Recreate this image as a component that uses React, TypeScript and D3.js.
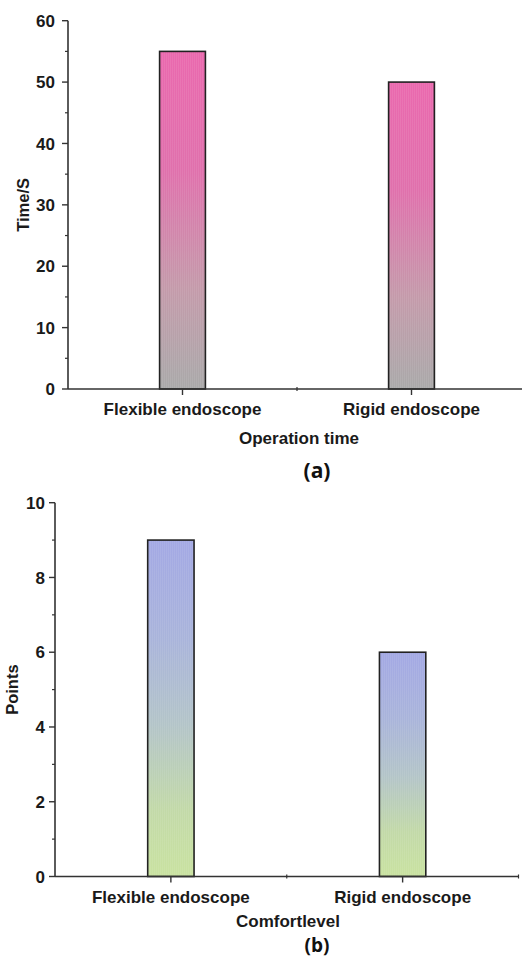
import * as d3 from "d3";

// panel (a): operation time
const categories = ["Flexible endoscope", "Rigid endoscope"];
const timeValues = [55, 50];
const timeTicks = [0, 10, 20, 30, 40, 50, 60];
const timeMinor = [5, 15, 25, 35, 45, 55];

// panel (b): comfort level
const pointValues = [9, 6];
const pointTicks = [0, 2, 4, 6, 8, 10];
const pointMinor = [1, 3, 5, 7, 9];

const W = 522;
const H = 959;
const FONT = "'Liberation Sans', Arial, sans-serif";

type PanelProps = {
  values: number[];
  ticks: number[];
  minor: number[];
  domainMax: number;
  left: number;
  right: number;
  top: number;
  bottom: number;
  gradId: string;
  yTitle: string;
  yTitleX: number;
  xTitle: string;
  xTitleX: number;
  xTitleY: number;
  xLabelY: number;
  tickFont: number;
  tickGap: number;
  label: string;
  labelY: number;
  labelFont: number;
};

function Panel(p: PanelProps) {
  const x = d3.scaleBand<string>().domain(categories).range([p.left, p.right]);
  const y = d3.scaleLinear().domain([0, p.domainMax]).range([p.bottom, p.top]);
  const bw = x.bandwidth() * 0.2;
  const boundaries = [p.left, ...categories.map((c) => (x(c) ?? 0) + x.bandwidth())];
  const axisColor = "#333";

  return (
    <g>
      {categories.map((c, i) => {
        const cx = (x(c) ?? 0) + x.bandwidth() / 2;
        return (
          <g key={c}>
            <rect
              x={cx - bw / 2}
              y={y(p.values[i])}
              width={bw}
              height={y(0) - y(p.values[i])}
              fill={`url(#${p.gradId})`}
            />
            <rect
              x={cx - bw / 2}
              y={y(p.values[i])}
              width={bw}
              height={y(0) - y(p.values[i])}
              fill="url(#stripes)"
              stroke="#222"
              strokeWidth={1.6}
            />
          </g>
        );
      })}

      {/* y axis */}
      <line x1={p.left} x2={p.left} y1={p.top} y2={p.bottom} stroke={axisColor} strokeWidth={1.6} />
      {p.ticks.map((t) => (
        <g key={t}>
          <line x1={p.left - 6} x2={p.left} y1={y(t)} y2={y(t)} stroke={axisColor} strokeWidth={1.4} />
          <text
            x={p.left - p.tickGap}
            y={y(t)}
            dy="0.36em"
            textAnchor="end"
            fontFamily={FONT}
            fontWeight="bold"
            fontSize={p.tickFont}
            fill="#1a1a1a"
          >
            {t}
          </text>
        </g>
      ))}
      {p.minor.map((t) => (
        <line key={t} x1={p.left - 3} x2={p.left} y1={y(t)} y2={y(t)} stroke={axisColor} strokeWidth={1.2} />
      ))}

      {/* x axis */}
      <line x1={p.left} x2={p.right} y1={p.bottom} y2={p.bottom} stroke={axisColor} strokeWidth={1.6} />
      {categories.map((c) => {
        const cx = (x(c) ?? 0) + x.bandwidth() / 2;
        return (
          <g key={c}>
            <line x1={cx} x2={cx} y1={p.bottom} y2={p.bottom + 6} stroke={axisColor} strokeWidth={1.4} />
            <text
              x={cx}
              y={p.xLabelY}
              dy="0.36em"
              textAnchor="middle"
              fontFamily={FONT}
              fontWeight="bold"
              fontSize={17}
              fill="#1a1a1a"
            >
              {c}
            </text>
          </g>
        );
      })}
      {boundaries.slice(1).map((b, i) => (
        <line key={i} x1={b} x2={b} y1={p.bottom - 2} y2={p.bottom + 2} stroke={axisColor} strokeWidth={1.2} />
      ))}

      <text
        transform={`translate(${p.yTitleX},${(p.top + p.bottom) / 2}) rotate(-90)`}
        dy="0.36em"
        textAnchor="middle"
        fontFamily={FONT}
        fontWeight="bold"
        fontSize={16.5}
        fill="#1a1a1a"
      >
        {p.yTitle}
      </text>
      <text
        x={p.xTitleX}
        y={p.xTitleY}
        dy="0.36em"
        textAnchor="middle"
        fontFamily={FONT}
        fontWeight="bold"
        fontSize={17}
        fill="#1a1a1a"
      >
        {p.xTitle}
      </text>
      <text
        x={317}
        y={p.labelY}
        dy="0.36em"
        textAnchor="middle"
        fontFamily="'Open Sans', sans-serif"
        fontWeight="bold"
        fontSize={p.labelFont}
        fill="#111"
      >
        {p.label}
      </text>
    </g>
  );
}

export default function App() {
  return (
    <svg
      width={W}
      height={H}
      style={{ position: "absolute", left: 0, top: 0, background: "#fff" }}
    >
      <defs>
        <linearGradient id="gradA" x1="0" y1="0" x2="0" y2="1">
          <stop offset="0" stopColor="#ea68ae" />
          <stop offset="0.35" stopColor="#e070ac" />
          <stop offset="0.7" stopColor="#c49aaa" />
          <stop offset="1" stopColor="#a9a9a9" />
        </linearGradient>
        <linearGradient id="gradB" x1="0" y1="0" x2="0" y2="1">
          <stop offset="0" stopColor="#a3a8e4" />
          <stop offset="0.3" stopColor="#a9b4da" />
          <stop offset="0.55" stopColor="#b3c4c8" />
          <stop offset="0.8" stopColor="#c2d9a8" />
          <stop offset="1" stopColor="#c9e2a0" />
        </linearGradient>
        <pattern id="stripes" patternUnits="userSpaceOnUse" width={2} height={4}>
          <rect x={0} y={0} width={1} height={4} fill="#ffffff" opacity={0.08} />
        </pattern>
      </defs>
      <Panel
        values={timeValues}
        ticks={timeTicks}
        minor={timeMinor}
        domainMax={60}
        left={68}
        right={526}
        top={20.7}
        bottom={389}
        gradId="gradA"
        yTitle="Time/S"
        yTitleX={23}
        xTitle="Operation time"
        xTitleX={299}
        xTitleY={438}
        xLabelY={409}
        tickFont={17}
        tickGap={13}
        label="(a)"
        labelY={470}
        labelFont={21}
      />
      <Panel
        values={pointValues}
        ticks={pointTicks}
        minor={pointMinor}
        domainMax={10}
        left={55}
        right={518.5}
        top={502.7}
        bottom={876.5}
        gradId="gradB"
        yTitle="Points"
        yTitleX={12}
        xTitle="Comfortlevel"
        xTitleX={288}
        xTitleY={921}
        xLabelY={897}
        tickFont={17}
        tickGap={10}
        label="(b)"
        labelY={945}
        labelFont={19}
      />
    </svg>
  );
}
